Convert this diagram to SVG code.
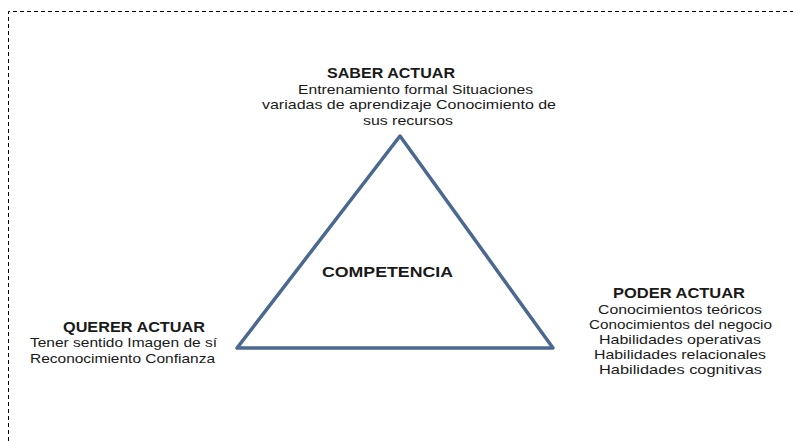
<svg xmlns="http://www.w3.org/2000/svg" width="793" height="441" viewBox="0 0 793 441">
<style>
.t{font-family:"Liberation Sans",Arial,sans-serif;font-size:13px;fill:#1a1a1a}
.h{font-family:"Liberation Sans",Arial,sans-serif;font-size:15px;font-weight:bold;fill:#1a1a1a}
.c{text-anchor:middle}
</style>
<rect width="793" height="441" fill="#fff"/>
<g id="frame" fill="none" stroke="#000" stroke-width="1" stroke-dasharray="4,3">
<path d="M8.5,441 V11.5 H793"/>
</g>
<g id="connectors"/>
<g id="triangle">
<polygon points="400,136 237,348 553,348" fill="none" stroke="#4a6890" stroke-width="3.5" stroke-linejoin="round"/>
<text class="h c" x="387.5" y="277" textLength="131" lengthAdjust="spacingAndGlyphs">COMPETENCIA</text>
</g>
<g id="saber">
<text class="h c" x="391" y="78" textLength="128" lengthAdjust="spacingAndGlyphs">SABER ACTUAR</text>
<text class="t c" x="415.5" y="94" textLength="235" lengthAdjust="spacingAndGlyphs">Entrenamiento formal Situaciones</text>
<text class="t c" x="409" y="109" textLength="294" lengthAdjust="spacingAndGlyphs">variadas de aprendizaje Conocimiento de</text>
<text class="t c" x="408" y="125" textLength="90" lengthAdjust="spacingAndGlyphs">sus recursos</text>
</g>
<g id="querer">
<text class="h" x="63" y="332" textLength="142" lengthAdjust="spacingAndGlyphs">QUERER ACTUAR</text>
<text class="t" x="30" y="347" textLength="187" lengthAdjust="spacingAndGlyphs">Tener sentido Imagen de sí</text>
<text class="t" x="30" y="363" textLength="185" lengthAdjust="spacingAndGlyphs">Reconocimiento Confianza</text>
</g>
<g id="poder">
<text class="h c" x="679" y="298" textLength="132" lengthAdjust="spacingAndGlyphs">PODER ACTUAR</text>
<text class="t c" x="680" y="314" textLength="164" lengthAdjust="spacingAndGlyphs">Conocimientos teóricos</text>
<text class="t c" x="680.5" y="329" textLength="183" lengthAdjust="spacingAndGlyphs">Conocimientos del negocio</text>
<text class="t c" x="680" y="344" textLength="162" lengthAdjust="spacingAndGlyphs">Habilidades operativas</text>
<text class="t c" x="680" y="359" textLength="172" lengthAdjust="spacingAndGlyphs">Habilidades relacionales</text>
<text class="t c" x="680.5" y="374" textLength="163" lengthAdjust="spacingAndGlyphs">Habilidades cognitivas</text>
</g>
</svg>
